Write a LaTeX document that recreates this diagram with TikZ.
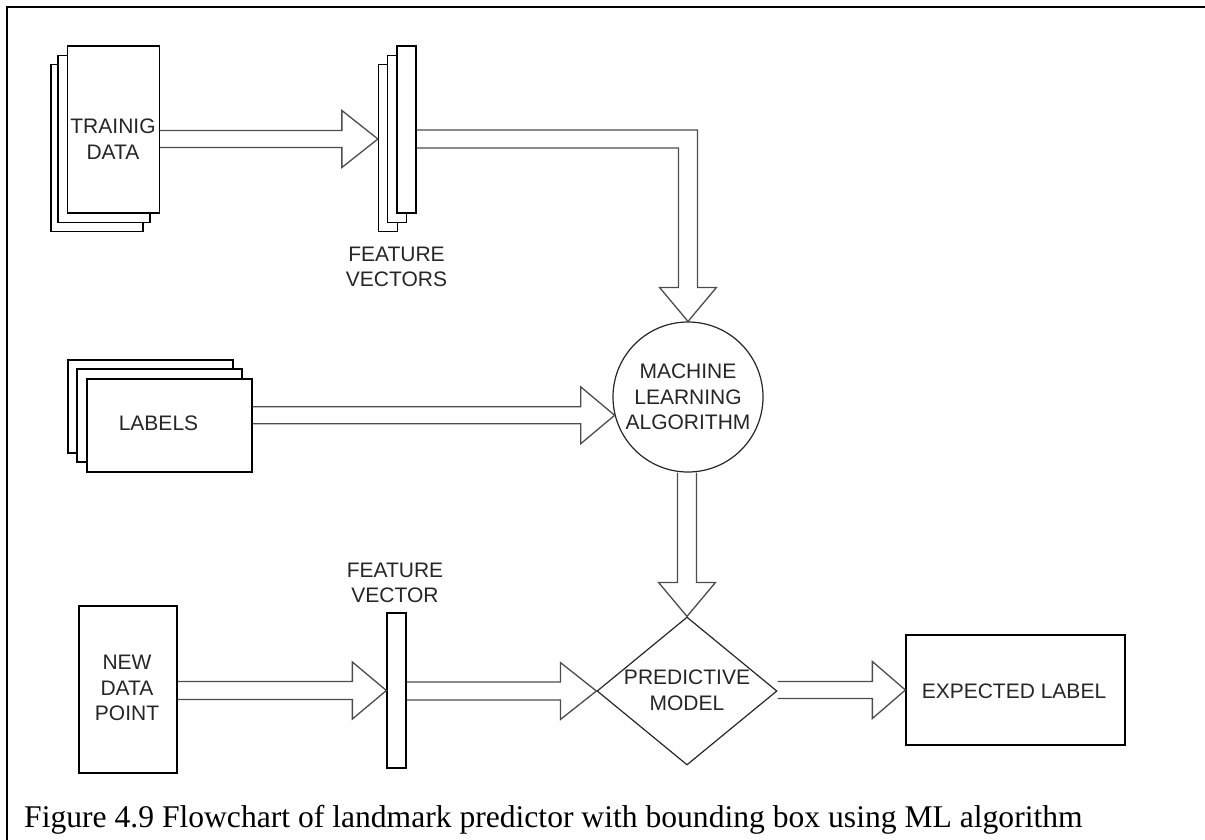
\documentclass[tikz,border=0pt]{standalone}
\usepackage{fontspec}
\setmainfont{Liberation Serif}
\setsansfont{Liberation Sans}
\usetikzlibrary{calc,shapes.geometric}

% hollow block arrow running right: tail anchor, tip, shaft half-width, head length
\newcommand{\hblock}[4]{%
  \draw[blockarrow]
    ($(#1 |- #2)+(0,-#3)$) -- ($(#2)+(-#4,-#3)$) -- ($(#2)+(-#4,-28.5)$) -- (#2)
    -- ($(#2)+(-#4,28.5)$) -- ($(#2)+(-#4,#3)$) -- ($(#1 |- #2)+(0,#3)$);}
% hollow block arrow running down: tail anchor, tip, shaft half-width, head length
\newcommand{\vblock}[4]{%
  \draw[blockarrow]
    ($(#1 -| #2)+(-#3,0)$) -- ($(#2)+(-#3,-#4)$) -- ($(#2)+(-28.5,-#4)$) -- (#2)
    -- ($(#2)+(28.5,-#4)$) -- ($(#2)+(#3,-#4)$) -- ($(#1 -| #2)+(#3,0)$);}

\begin{document}
\begin{tikzpicture}[x=1pt,y=-1pt,
  box/.style={rectangle, draw=black, line width=1.25pt, fill=white, inner sep=0pt},
  lbl/.style={font=\sffamily\fontsize{21}{25.5}\selectfont, align=center, inner sep=0pt, text=black!85},
  blockarrow/.style={draw=black!70, line width=1.3pt, line join=miter}]

\useasboundingbox (0,0) rectangle (1205,840);

% page frame
\draw[line width=2.5pt] (7,840) -- (7,7) -- (1205,7);

% training data stack
\node[box, minimum width=92, minimum height=167] (td3) at (97,148) {};
\node[box, minimum width=92, minimum height=167] (td2) at (104,139) {};
\node[box, minimum width=92, minimum height=167] (td) at (113.5,129.5) {};
\node[lbl] (tdt) at (113,139) {TRAINIG\\DATA};

% feature vectors stack
\node[box, minimum width=19, minimum height=167] (fv3) at (388,148) {};
\node[box, minimum width=19, minimum height=167] (fv2) at (397,139) {};
\node[box, minimum width=19, minimum height=167] (fv) at (406.5,129.5) {};
\node[lbl] (fvt) at (396.5,267) {FEATURE\\VECTORS};

% labels stack
\node[box, minimum width=165, minimum height=93] (lb3) at (150.5,406.5) {};
\node[box, minimum width=165, minimum height=93] (lb2) at (159.5,415.5) {};
\node[box, minimum width=165, minimum height=93] (lb) at (169.5,425.5) {};
\node[lbl] (lbt) at (158.5,423) {LABELS};

% learning algorithm
\node[circle, draw=black!85, line width=1.2pt, minimum size=150, inner sep=0pt] (ml) at (688,397) {};
\node[lbl] (mlt) at (688,397) {MACHINE\\LEARNING\\ALGORITHM};

% prediction row
\node[box, minimum width=98, minimum height=167] (nd) at (128,689.5) {};
\node[lbl] (ndt) at (127,688) {NEW\\DATA\\POINT};
\node[box, minimum width=19, minimum height=155] (fvx) at (396.5,690.5) {};
\node[lbl] (fvxt) at (395,583) {FEATURE\\VECTOR};
\node[diamond, draw=black!85, line width=1.2pt, minimum width=180, minimum height=148, inner sep=0pt] (pm) at (687,691) {};
\node[lbl] (pmt) at (687,690.5) {PREDICTIVE\\MODEL};
\node[box, minimum width=219, minimum height=110] (el) at (1015.5,690) {};
\node[lbl] (elt) at (1014,691) {EXPECTED LABEL};

% caption
\node[anchor=base west, inner sep=0pt, font=\rmfamily\fontsize{31.6}{36}\selectfont] (cap) at (24,827)
  {Figure 4.9 Flowchart of landmark predictor with bounding box using ML algorithm};

% connectors
\coordinate (t1) at (fv3.west |- fv2.center);
\hblock{td.east}{t1}{8.5}{36}
\draw[blockarrow]
  ($(fv.east |- fv2.center)+(0,-9)$) -| ($(ml.north)+(9.5,-34)$) -- ($(ml.north)+(28.5,-34)$)
  -- (ml.north) -- ($(ml.north)+(-28.5,-34)$) -- ($(ml.north)+(-9.5,-34)$)
  |- ($(fv.east |- fv2.center)+(0,9)$);
\hblock{lb.east}{ml.194}{8.5}{34}
\vblock{ml.south}{pm.north}{9.5}{34}
\hblock{nd.east}{fvx.west}{9}{34}
\hblock{fvx.east}{pm.west}{9}{36}
\hblock{pm.east}{el.west}{8.5}{33}

\end{tikzpicture}
\end{document}
